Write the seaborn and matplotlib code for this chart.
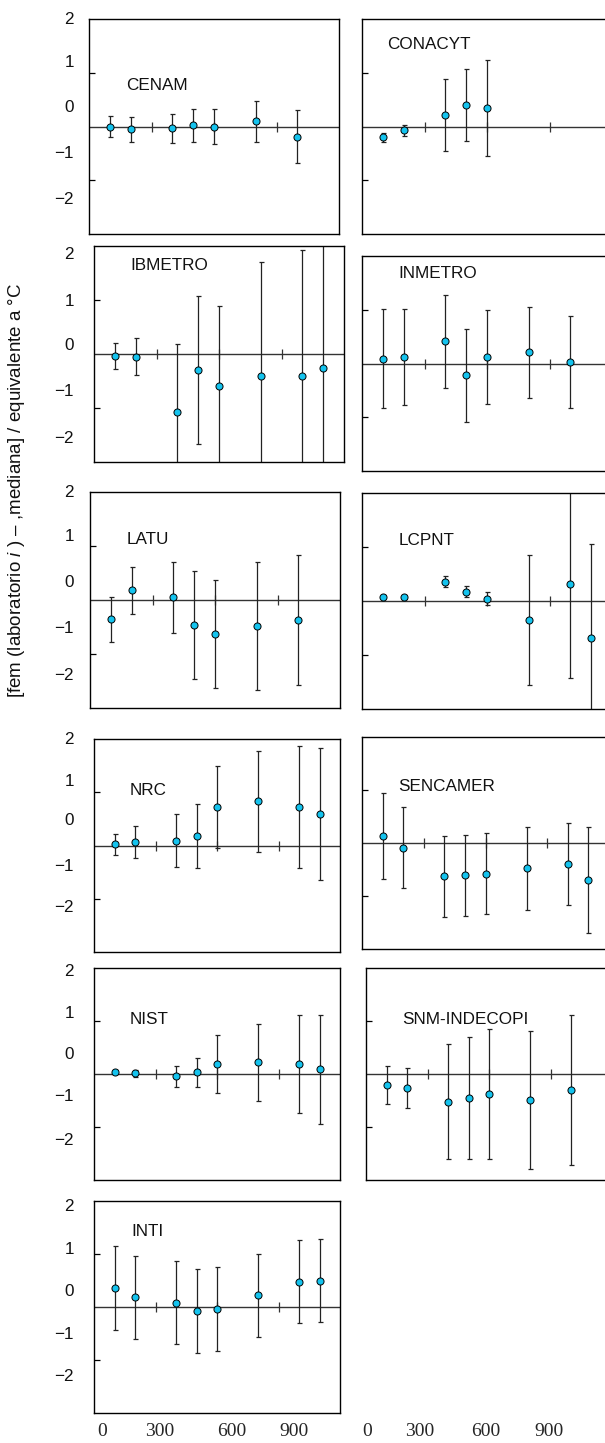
import matplotlib
matplotlib.use("Agg")
import matplotlib.pyplot as plt
import matplotlib.transforms as mtrans
import seaborn as sns

# temperaturas de medición (°C)
t8 = [100, 200, 400, 500, 600, 800, 1000, 1100]
t7 = [100, 200, 400, 500, 600, 800, 1000]
t5 = [100, 200, 400, 500, 600]

# diferencias respecto a la mediana y su incertidumbre, equivalente en °C
cenam_t = t7
cenam_v = [0.00, -0.05, -0.03, 0.02, 0.00, 0.10, -0.19]
cenam_u = [0.20, 0.23, 0.27, 0.30, 0.33, 0.38, 0.49]

conacyt_t = t5
conacyt_v = [-0.20, -0.07, 0.22, 0.40, 0.34]
conacyt_u = [0.085, 0.10, 0.67, 0.67, 0.89]

ibmetro_t = t8
ibmetro_v = [-0.03, -0.05, -1.08, -0.29, -0.60, -0.41, -0.40, -0.26]
ibmetro_u = [0.24, 0.34, 1.27, 1.37, 1.48, 2.11, 2.33, 2.60]

inmetro_t = t7
inmetro_v = [0.09, 0.12, 0.41, -0.22, 0.12, 0.21, 0.03]
inmetro_u = [0.92, 0.89, 0.87, 0.87, 0.87, 0.85, 0.85]

latu_t = t7
latu_v = [-0.36, 0.18, 0.05, -0.47, -0.63, -0.48, -0.37]
latu_u = [0.42, 0.43, 0.66, 1.00, 1.00, 1.18, 1.20]

lcpnt_t = t8
lcpnt_v = [0.08, 0.07, 0.36, 0.17, 0.04, -0.35, 0.32, -0.69]
lcpnt_u = [0.03, 0.04, 0.11, 0.105, 0.12, 1.20, 1.75, 1.74]

nrc_t = t8
nrc_v = [0.02, 0.06, 0.09, 0.18, 0.73, 0.83, 0.72, 0.59]
nrc_u = [0.20, 0.30, 0.50, 0.60, 0.77, 0.95, 1.14, 1.24]

sencamer_t = t8
sencamer_v = [0.13, -0.09, -0.63, -0.61, -0.58, -0.48, -0.40, -0.70]
sencamer_u = [0.81, 0.76, 0.76, 0.76, 0.76, 0.78, 0.77, 1.00]

nist_t = t8
nist_v = [0.04, 0.01, -0.04, 0.03, 0.19, 0.22, 0.19, 0.09]
nist_u = [0.03, 0.07, 0.20, 0.27, 0.54, 0.72, 0.92, 1.03]

snm_t = t7
snm_v = [-0.21, -0.26, -0.52, -0.45, -0.38, -0.49, -0.30]
snm_u = [0.36, 0.38, 1.09, 1.15, 1.23, 1.30, 1.42]

inti_t = t8
inti_v = [0.36, 0.18, 0.08, -0.08, -0.04, 0.22, 0.48, 0.50]
inti_u = [0.79, 0.79, 0.78, 0.79, 0.79, 0.78, 0.78, 0.79]

ytick_txt = ["2", "1", "0", "\u22121", "\u22122"]
xtick_txt = ["0", "300", "600", "900"]
xmarks = [300, 600, 900]

# caja de cada panel en pixeles (izq, arriba, der, abajo), posición del nombre
paneles = [
    ("CENAM", cenam_t, cenam_v, cenam_u, (89, 19, 339, 234), (0.148, 0.69), [2.0, 1.19, 0.35, -0.50, -1.35]),
    ("CONACYT", conacyt_t, conacyt_v, conacyt_u, (362, 19, 612, 234), (0.10, 0.88), None),
    ("IBMETRO", ibmetro_t, ibmetro_v, ibmetro_u, (94, 246, 344, 462), (0.144, 0.91), [1.85, 0.98, 0.15, -0.70, -1.56]),
    ("INMETRO", inmetro_t, inmetro_v, inmetro_u, (362, 256, 612, 471), (0.145, 0.92), None),
    ("LATU", latu_t, latu_v, latu_u, (90, 492, 340, 708), (0.145, 0.78), [1.99, 1.17, 0.33, -0.52, -1.39]),
    ("LCPNT", lcpnt_t, lcpnt_v, lcpnt_u, (362, 493, 612, 709), (0.145, 0.78), None),
    ("NRC", nrc_t, nrc_v, nrc_u, (94, 739, 340, 952), (0.146, 0.76), [2.0, 1.2, 0.47, -0.39, -1.16]),
    ("SENCAMER", sencamer_t, sencamer_v, sencamer_u, (362, 737, 609, 949), (0.145, 0.765), None),
    ("NIST", nist_t, nist_v, nist_u, (94, 968, 340, 1180), (0.146, 0.755), [1.94, 1.15, 0.36, -0.43, -1.25]),
    ("SNM-INDECOPI", snm_t, snm_v, snm_u, (366, 968, 612, 1180), (0.148, 0.755), None),
    ("INTI", inti_t, inti_v, inti_u, (94, 1201, 340, 1413), (0.15, 0.854), [1.89, 1.08, 0.30, -0.51, -1.32]),
]

W, H = 605, 1443
cyan = "#14c3ee"

sns.set_theme(style="white")
plt.rcParams['font.family'] = ['Liberation Sans', 'DejaVu Sans']
plt.rcParams['mathtext.fontset'] = 'custom'
plt.rcParams['mathtext.rm'] = 'Liberation Sans'
plt.rcParams['mathtext.it'] = 'Liberation Sans:italic'

fig = plt.figure(figsize=(W / 100, H / 100), dpi=100)


def caja(b):
    l, t, r, bb = b
    return fig.add_axes([l / W, 1 - bb / H, (r - l) / W, (bb - t) / H])


for nombre, tt, vv, uu, box, pos_nombre, ylab in paneles:
    ax = caja(box)
    ax.set_xlim(0, 1200)
    ax.set_ylim(-2, 2)
    ax.axhline(0, color="#333333", lw=1.0, zorder=1)
    ax.plot(xmarks, [0] * len(xmarks), ls="none", marker="|", ms=7, mew=0.9, color="#333333", zorder=1)
    ax.errorbar(tt, vv, yerr=uu, fmt="none", ecolor="#222222", elinewidth=0.9,
                capsize=1.8, capthick=0.9, zorder=2)
    sns.scatterplot(x=tt, y=vv, ax=ax, color=cyan, edgecolor="black", linewidth=0.7,
                    s=26, zorder=3, legend=False)
    ax.set_yticks([-1, 1])
    ax.set_xticks([])
    ax.tick_params(axis="y", direction="in", length=4, width=0.9, color="black",
                   left=True, labelleft=False)
    for sp in ax.spines.values():
        sp.set_color("black")
        sp.set_linewidth(1.0)
    ax.text(pos_nombre[0], pos_nombre[1], nombre, transform=ax.transAxes,
            ha="left", va="center", fontsize=12.3, color="#111111")

    if ylab is not None:
        l, t, r, bb = box
        xa = (74 - l) / (r - l)
        tr = mtrans.blended_transform_factory(ax.transAxes, ax.transData)
        for yv, txt in zip(ylab, ytick_txt):
            ax.text(xa, yv, txt, transform=tr, ha="right", va="center",
                    fontsize=12.3, color="#111111", clip_on=False)

    if nombre == "INTI":
        ax.set_xticks([39, 318, 674, 977])
        ax.set_xticklabels(xtick_txt, fontfamily="Liberation Serif", fontsize=14)
        ax.tick_params(axis="x", length=0, pad=7, bottom=True, labelbottom=True)

# etiquetas del eje x debajo de la columna derecha
ax = caja((362, 1201, 608, 1413))
ax.set_xlim(0, 1200)
ax.set_frame_on(False)
ax.set_yticks([])
ax.set_xticks([24, 283, 605, 912])
ax.set_xticklabels(xtick_txt, fontfamily="Liberation Serif", fontsize=14)
ax.tick_params(axis="x", length=0, pad=7, bottom=True, labelbottom=True)

fig.text(17 / W, 1 - 490 / H,
         r"[fem (laboratorio $\it{i}$ ) – ,mediana] / equivalente a °C",
         rotation=90, ha="center", va="center", fontsize=13.5, color="#111111")

fig.savefig("out.png", dpi=100, facecolor="white")
